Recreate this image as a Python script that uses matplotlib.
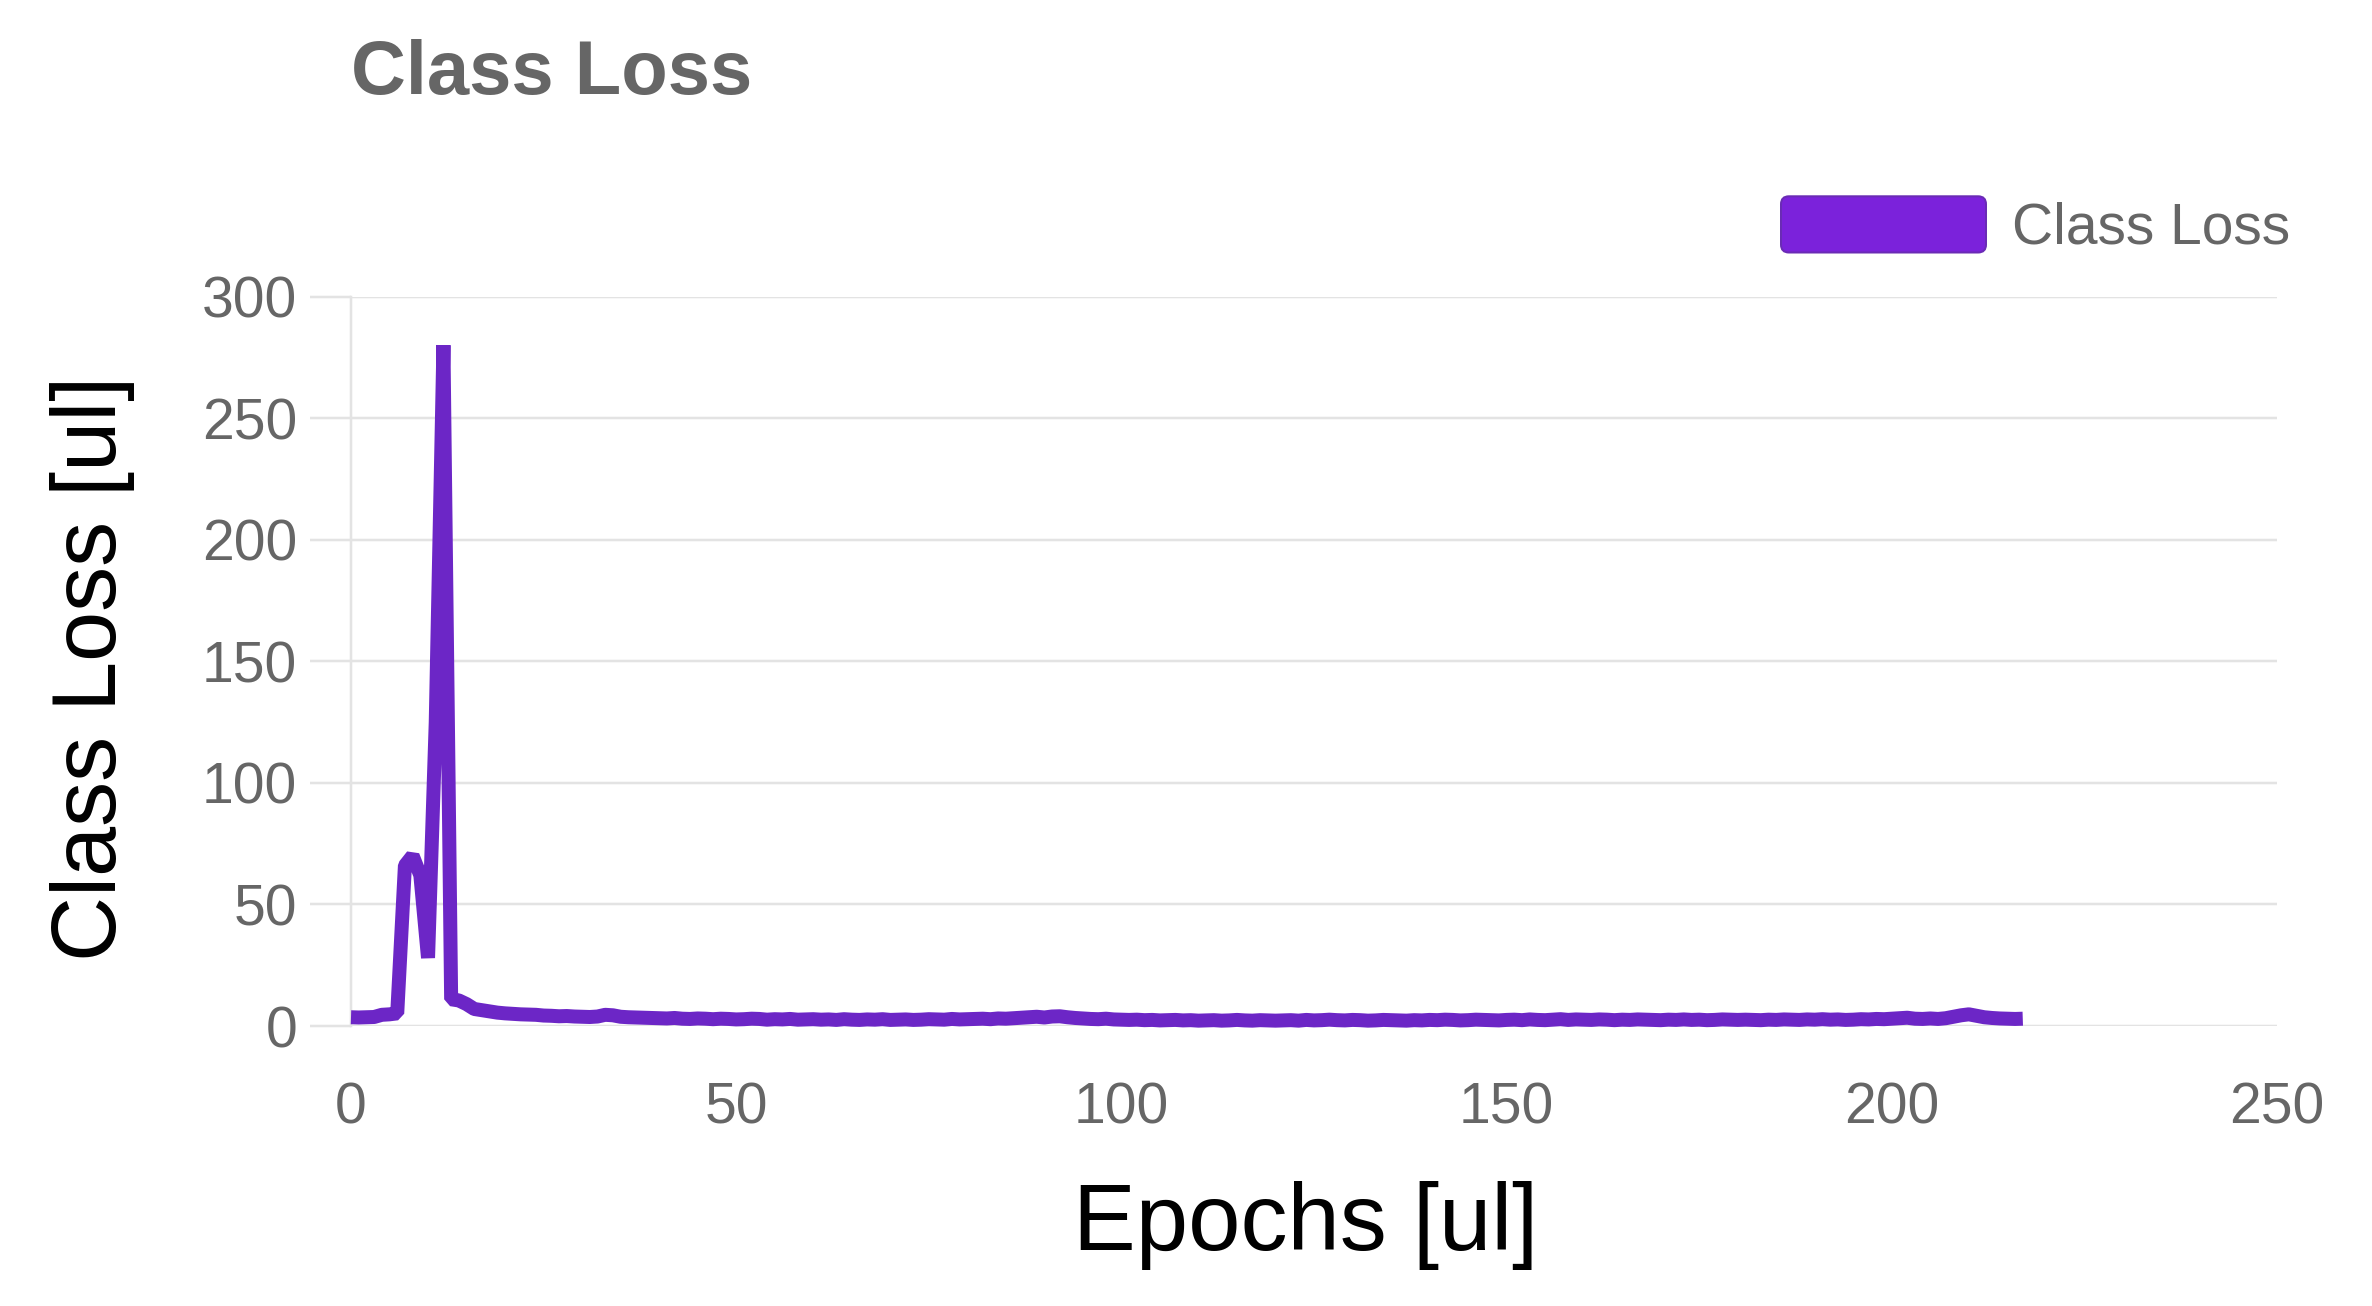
import matplotlib
matplotlib.use("Agg")
import matplotlib.pyplot as plt
from matplotlib import font_manager
from matplotlib.patches import FancyBboxPatch
from matplotlib.legend_handler import HandlerPatch
from matplotlib.patches import Patch

# ---------------- data ----------------
class_loss = [
    3.6, 3.5, 3.6, 3.7, 4.6, 4.8, 5.2,
    66, 70, 62, 28, 125, 280, 11, 10.5, 9, 7, 6.5, 6, 5.5, 5.2,
    5.0, 4.8, 4.7, 4.6, 4.3, 4.2, 4.0, 4.1, 3.9, 3.8, 3.7, 3.9, 4.6, 4.4, 3.8, 3.6, 3.5, 3.4, 3.3, 3.2,
    3.1, 3.3, 3.0, 2.9, 3.1, 3.0, 2.8, 3.0, 2.9, 2.7, 2.8, 3.0, 2.9, 2.6, 2.8, 2.7, 2.9, 2.6, 2.7, 2.8,
    2.6, 2.7, 2.5, 2.8, 2.6, 2.5, 2.7, 2.6, 2.8, 2.5, 2.6, 2.7, 2.5, 2.6, 2.8, 2.7, 2.6, 2.9, 2.7, 2.8,
    2.9, 3.0, 2.8, 3.1, 3.0, 3.2, 3.4, 3.6, 3.8, 3.5, 3.9, 4.0, 3.6, 3.3, 3.1, 2.9, 2.8, 3.0, 2.7, 2.6,
    2.5, 2.6, 2.4, 2.5, 2.3, 2.4, 2.5, 2.3, 2.4, 2.2, 2.3, 2.4, 2.2, 2.3, 2.5, 2.3, 2.2, 2.4, 2.3, 2.2,
    2.3, 2.4, 2.2, 2.5, 2.3, 2.4, 2.6, 2.4, 2.3, 2.5, 2.4, 2.2, 2.3, 2.5, 2.4, 2.3, 2.2, 2.4, 2.3, 2.5,
    2.4, 2.6, 2.5, 2.3, 2.4, 2.6, 2.5, 2.4, 2.3, 2.5, 2.6, 2.4, 2.7, 2.5, 2.4, 2.6, 2.8, 2.5, 2.7, 2.6,
    2.5, 2.7, 2.6, 2.4, 2.6, 2.5, 2.7, 2.6, 2.5, 2.4, 2.6, 2.5, 2.7, 2.5, 2.6, 2.4, 2.5, 2.7, 2.6, 2.5,
    2.6, 2.5, 2.4, 2.6, 2.5, 2.7, 2.6, 2.5, 2.7, 2.6, 2.8, 2.6, 2.7, 2.5, 2.6, 2.8, 2.7, 2.9, 2.8, 3.0,
    3.2, 3.4, 3.0, 2.9, 3.1, 2.9, 3.2, 3.8, 4.4, 4.8, 4.2, 3.6, 3.3, 3.1, 3.0, 2.9, 3.0,
]
epochs = list(range(len(class_loss)))
x_ticks = [0, 50, 100, 150, 200, 250]
y_ticks = [0, 50, 100, 150, 200, 250, 300]

title_text = "Class Loss"
series_label = "Class Loss"
x_label = "Epochs [ul]"
y_label = "Class Loss [ul]"

# ---------------- style ----------------
W, H, DPI = 2372, 1306, 100
px = 72.0 / DPI  # points per pixel

available = {f.name for f in font_manager.fontManager.ttflist}
base_font = "Liberation Sans" if "Liberation Sans" in available else "DejaVu Sans"
plt.rcParams["font.family"] = [base_font, "DejaVu Sans"]

line_color = "#6C26C6"
fill_color = "#7B22DB"
edge_color = "#6A2BB5"
grid_color = "#E3E3E3"
text_gray = "#666666"

fig = plt.figure(figsize=(W / DPI, H / DPI), dpi=DPI)
x0, x1 = 351, 2277
y_top, y_bot = 296.5, 1026
ax = fig.add_axes([x0 / W, 1 - y_bot / H, (x1 - x0) / W, (y_bot - y_top) / H])

ax.plot(epochs, class_loss, color=line_color, lw=14 * px, solid_joinstyle="bevel",
        solid_capstyle="butt", clip_on=False, zorder=3)

ax.set_xlim(0, 250)
ax.set_ylim(0, 300)
ax.set_xticks(x_ticks)
ax.set_yticks(y_ticks)

for s in ["top", "right", "bottom"]:
    ax.spines[s].set_visible(False)
ax.spines["left"].set_color(grid_color)
ax.spines["left"].set_linewidth(2.5 * px)

ax.yaxis.grid(True, color=grid_color, lw=2.5 * px)
ax.xaxis.grid(False)
ax.set_axisbelow(True)

ax.tick_params(axis="y", length=41 * px, width=2.5 * px, color=grid_color,
               pad=13 * px, labelsize=57 * px, labelcolor=text_gray)
ax.tick_params(axis="x", length=0, pad=56 * px, labelsize=57 * px, labelcolor=text_gray)

# title
fig.text(351 / W, 1 - 94 / H, title_text, fontsize=76 * px, fontweight="bold",
         color=text_gray, ha="left", va="baseline")

# axis labels
fig.text(1306 / W, 1 - 1250 / H, x_label, fontsize=94 * px, color="black",
         ha="center", va="baseline")
fig.text(93 / W, 1 - 668 / H, y_label, fontsize=90 * px, color="black",
         rotation=90, ha="center", va="center")


# legend with rounded box
class RoundHandler(HandlerPatch):
    def create_artists(self, legend, orig_handle, xdescent, ydescent, width, height,
                       fontsize, trans):
        p = FancyBboxPatch((-xdescent, -ydescent), width, height,
                           boxstyle="round,pad=0,rounding_size=%f" % (0.14 * height),
                           facecolor=fill_color, edgecolor=edge_color, lw=2 * px,
                           transform=trans)
        return [p]


fs_leg = 57
handle = Patch(facecolor=fill_color, edgecolor=edge_color, label=series_label)
leg = fig.legend(handles=[handle], loc="center left",
                 bbox_to_anchor=(1781 / W, 1 - 226 / H),
                 frameon=False, fontsize=fs_leg * px,
                 handlelength=205 / fs_leg, handleheight=65 / fs_leg,
                 handletextpad=26 / fs_leg, borderpad=0, borderaxespad=0,
                 handler_map={Patch: RoundHandler()})
for t in leg.get_texts():
    t.set_color(text_gray)

fig.savefig("out.png", dpi=DPI, facecolor="white")
